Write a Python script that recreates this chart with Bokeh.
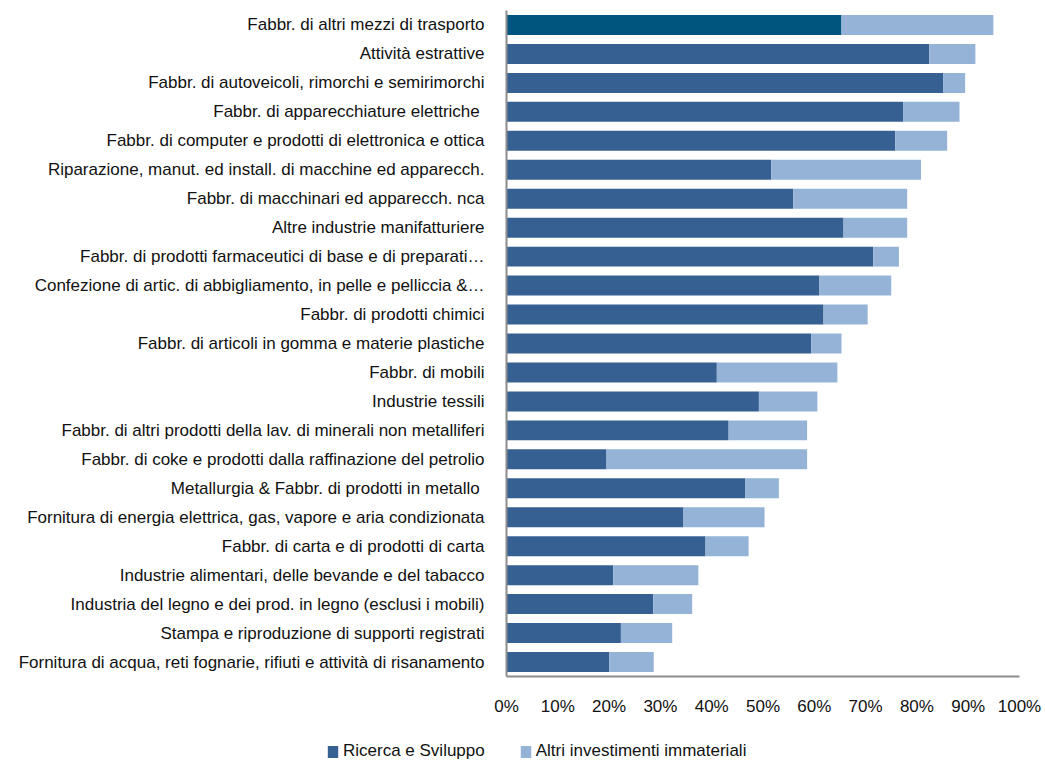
from bokeh.plotting import figure
from bokeh.models import ColumnDataSource, Range1d, FixedTicker, Legend, LegendItem, LinearAxis
from bokeh.transform import stack
from bokeh.embed import file_html
from bokeh.resources import INLINE

categories = [
    "Fabbr. di altri mezzi di trasporto",
    "Attività estrattive",
    "Fabbr. di autoveicoli, rimorchi e semirimorchi",
    "Fabbr. di apparecchiature elettriche ",
    "Fabbr. di computer e prodotti di elettronica e ottica",
    "Riparazione, manut. ed install. di macchine ed apparecch.",
    "Fabbr. di macchinari ed apparecch. nca",
    "Altre industrie manifatturiere",
    "Fabbr. di prodotti farmaceutici di base e di preparati…",
    "Confezione di artic. di abbigliamento, in pelle e pelliccia &…",
    "Fabbr. di prodotti chimici",
    "Fabbr. di articoli in gomma e materie plastiche",
    "Fabbr. di mobili",
    "Industrie tessili",
    "Fabbr. di altri prodotti della lav. di minerali non metalliferi",
    "Fabbr. di coke e prodotti dalla raffinazione del petrolio",
    "Metallurgia & Fabbr. di prodotti in metallo ",
    "Fornitura di energia elettrica, gas, vapore e aria condizionata",
    "Fabbr. di carta e di prodotti di carta",
    "Industrie alimentari, delle bevande e del tabacco",
    "Industria del legno e dei prod. in legno (esclusi i mobili)",
    "Stampa e riproduzione di supporti registrati",
    "Fornitura di acqua, reti fognarie, rifiuti e attività di risanamento",
]
ricerca_sviluppo = [65.3, 82.4, 85.1, 77.3, 75.8, 51.6, 55.9, 65.7, 71.5, 61.0, 61.8, 59.4,
                    41.0, 49.2, 43.3, 19.5, 46.5, 34.5, 38.8, 20.8, 28.6, 22.3, 20.0]
altri_investimenti = [29.6, 9.0, 4.3, 11.0, 10.1, 29.2, 22.2, 12.4, 5.0, 14.0, 8.6, 5.9,
                      23.5, 11.4, 15.3, 39.1, 6.6, 15.8, 8.4, 16.6, 7.6, 10.0, 8.7]
x_ticks = [0, 10, 20, 30, 40, 50, 60, 70, 80, 90, 100]
series_names = ["Ricerca e Sviluppo", "Altri investimenti immateriali"]

DARK = "#376092"
DARK_FIRST = "#00557F"
LIGHT = "#95B3D7"
FONT = "Liberation Sans"

# layout: the frame covers the whole canvas; axes are placed at fixed locations
W, H = 1045, 762
X0_PX, X100_PX = 506, 1019          # pixel positions of 0% and 100%
TOP_PX, BOTTOM_PX = 10, 676         # pixel extent of the category bands
n = len(categories)
ypos = list(range(n - 1, -1, -1))   # first category at the top
px_x = (X100_PX - X0_PX) / 100.0
px_y = (BOTTOM_PX - TOP_PX) / n
x_start = -X0_PX / px_x
x_end = 100 + (W - X100_PX) / px_x
y_end = (n - 0.5) + TOP_PX / px_y
y_start = -0.5 - (H - BOTTOM_PX) / px_y

src = ColumnDataSource(dict(
    y=ypos,
    cat=categories,
    rd=ricerca_sviluppo,
    altri=altri_investimenti,
    color=[DARK_FIRST] + [DARK] * (n - 1),
))

p = figure(width=W, height=H, output_backend="svg", toolbar_location=None,
           x_range=Range1d(x_start, x_end), y_range=Range1d(y_start, y_end),
           x_axis_type=None, y_axis_type=None, min_border=0)
p.outline_line_color = None
p.xgrid.visible = False
p.ygrid.visible = False

r1 = p.hbar(y="y", left=0, right=stack("rd"), height=0.69, source=src,
            fill_color="color", line_color=None)
r2 = p.hbar(y="y", left=stack("rd"), right=stack("rd", "altri"), height=0.69, source=src,
            fill_color=LIGHT, line_color=None)

xaxis = LinearAxis(fixed_location=-0.5, bounds=(0, 100),
                   ticker=FixedTicker(ticks=x_ticks),
                   major_label_overrides={t: f"{t}%" for t in x_ticks},
                   major_label_standoff=14)
yaxis = LinearAxis(fixed_location=0, bounds=(-0.5, n - 0.5),
                   ticker=FixedTicker(ticks=ypos),
                   major_label_overrides={yv: c for yv, c in zip(ypos, categories)},
                   major_label_standoff=16)
for ax in (xaxis, yaxis):
    ax.axis_line_color = "#8c8c8c"
    ax.axis_line_width = 2
    ax.major_tick_line_color = None
    ax.minor_tick_line_color = None
    ax.major_label_text_font = FONT
    ax.major_label_text_font_size = "17px"
    ax.major_label_text_color = "#111111"
p.add_layout(xaxis, "below")
p.add_layout(yaxis, "left")

legend = Legend(items=[LegendItem(label=series_names[0], renderers=[r1], index=1),
                       LegendItem(label=series_names[1], renderers=[r2])],
                orientation="horizontal", location=(326, 1),
                border_line_color=None, background_fill_alpha=0,
                padding=0, margin=0, spacing=34, label_standoff=4,
                glyph_width=13, glyph_height=15, label_height=20,
                label_text_font=FONT, label_text_font_size="17px",
                label_text_color="#111111")
p.add_layout(legend, "center")

open("out.html", "w").write(file_html(p, INLINE))
